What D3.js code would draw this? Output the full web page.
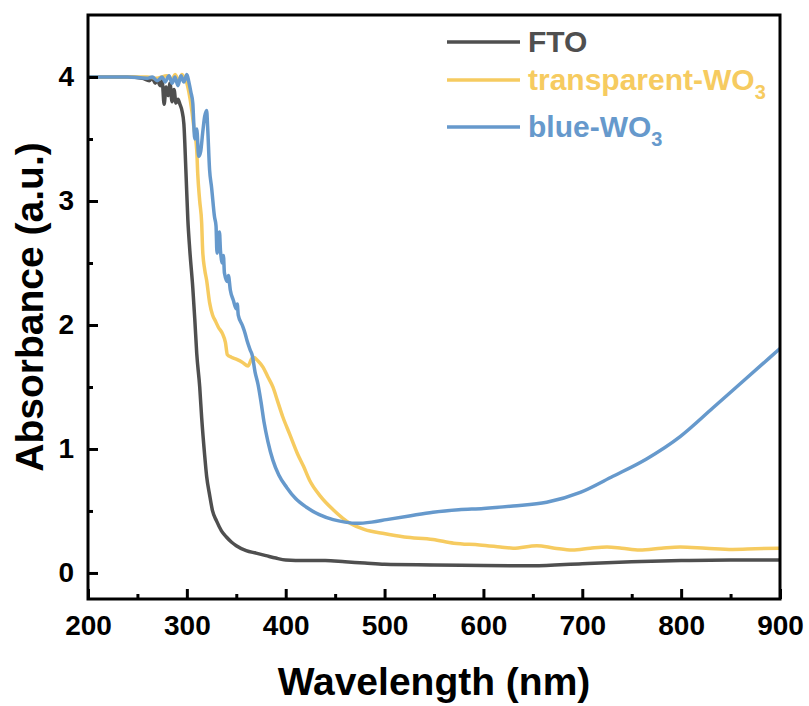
<!DOCTYPE html>
<html>
<head>
<meta charset="utf-8">
<script src="https://cdn.jsdelivr.net/npm/d3@7"></script>
<style>
  html, body { margin: 0; padding: 0; background: #fff; }
  svg text { font-family: Arial, "Liberation Sans", sans-serif; font-weight: bold; }
</style>
</head>
<body>
<svg id="chart_svg" width="809" height="706"></svg>
<script>
// wavelength (nm), absorbance (a.u.)
const ftoData = [
  [200,4.0],[220,4.0],[240,4.0],[255,3.99],[262,3.97],[265,3.99],[268,3.95],[270,3.98],
  [273,3.93],[275,3.97],[277,3.78],[279,3.92],[281,3.85],[283,3.95],[285,3.8],[287,3.9],
  [289,3.79],[291,3.82],[293,3.78],[295,3.73],[297,3.62],[299,3.25],[301,2.85],[303,2.6],
  [306,2.3],[308,2.05],[310,1.77],[313,1.5],[315,1.25],[318,0.95],[320,0.78],[323,0.63],
  [326,0.5],[330,0.42],[335,0.34],[340,0.29],[345,0.25],[350,0.22],[360,0.18],[370,0.16],
  [380,0.14],[390,0.12],[400,0.105],[420,0.10],[440,0.10],[460,0.09],[480,0.08],[500,0.07],
  [550,0.065],[600,0.06],[650,0.058],[700,0.075],[750,0.09],[800,0.10],[850,0.105],[900,0.105]
];

const transparentData = [
  [200,4.0],[240,4.0],[260,4.0],[270,3.99],[280,4.01],[285,3.98],[288,4.02],[292,3.97],
  [295,4.02],[298,3.98],[300,3.95],[302,3.88],[305,3.73],[307,3.6],[310,3.41],[311,3.22],
  [313,3.0],[315,2.82],[316,2.6],[318,2.45],[320,2.36],[323,2.18],[326,2.08],[329,2.03],
  [332,1.98],[336,1.93],[339,1.86],[341,1.76],[345,1.74],[351,1.72],[356,1.70],[362,1.67],
  [365,1.72],[367,1.74],[372,1.71],[377,1.66],[382,1.58],[387,1.5],[392,1.38],[397,1.26],
  [404,1.12],[412,0.96],[418,0.86],[424,0.75],[435,0.62],[448,0.51],[465,0.40],[480,0.35],
  [498,0.32],[520,0.29],[549,0.27],[570,0.24],[596,0.226],[617,0.21],[630,0.2],[654,0.22],
  [672,0.2],[690,0.185],[708,0.2],[725,0.21],[740,0.2],[758,0.185],[780,0.2],[799,0.21],
  [825,0.2],[852,0.19],[875,0.195],[900,0.2]
];

const blueData = [
  [200,4.0],[240,4.0],[260,3.99],[265,4.0],[270,3.97],[275,4.0],[278,3.96],[282,4.01],
  [285,3.95],[288,4.0],[291,3.93],[294,4.01],[297,3.96],[300,4.02],[302,3.96],[304,3.88],
  [306,3.79],[308,3.5],[310,3.58],[312,3.36],[314,3.4],[316,3.55],[318,3.68],[320,3.73],
  [321,3.6],[323,3.25],[325,3.11],[328,2.87],[329.5,2.8],[330.5,2.58],[331.5,2.66],[333,2.75],
  [334,2.6],[336,2.5],[337,2.56],[338,2.42],[341,2.35],[342,2.4],[344,2.28],[347,2.2],
  [350,2.13],[351,2.17],[352,2.08],[356,2.0],[359,1.93],[361,1.87],[364,1.8],[366,1.76],
  [369,1.62],[372,1.52],[375,1.38],[378,1.22],[382,1.06],[387,0.91],[393,0.79],[401,0.69],
  [410,0.6],[421,0.53],[434,0.47],[448,0.43],[460,0.41],[472,0.40],[487,0.41],[502,0.43],
  [525,0.46],[549,0.49],[575,0.51],[600,0.52],[630,0.54],[664,0.57],[698,0.65],[731,0.78],
  [765,0.92],[799,1.10],[832,1.33],[866,1.57],[900,1.81]
];

const seriesNames = ["FTO", "transparent-WO", "blue-WO"];
const seriesSubs = ["", "3", "3"];
const seriesColors = ["#4f4f4f", "#f6cb60", "#6699cc"];

const xTicks = [200, 300, 400, 500, 600, 700, 800, 900];
const xMinorTicks = [250, 350, 450, 550, 650, 750, 850];
const yTicks = [0, 1, 2, 3, 4];
const yMinorTicks = [0.5, 1.5, 2.5, 3.5];

const margin = { top: 15, left: 88, right: 29, bottom: 107 };

let svg = d3.select("#chart_svg");
let width = +svg.attr("width") - margin.left - margin.right;
let height = +svg.attr("height") - margin.top - margin.bottom;

const xScale = d3.scaleLinear().domain([200, 900]).range([0, width]);
const yScale = d3.scaleLinear().domain([-0.21, 4.5]).range([height, 0]);

let g = svg.append("g").attr("transform", "translate(" + margin.left + "," + margin.top + ")");

g.append("clipPath").attr("id", "plot_clip")
  .append("rect").attr("width", width).attr("height", height);

// curves
const line = d3.line()
  .x(d => xScale(d[0]))
  .y(d => yScale(d[1]))
  .curve(d3.curveMonotoneX);

const allSeries = [ftoData, transparentData, blueData];
g.append("g").attr("clip-path", "url(#plot_clip)")
  .selectAll("path")
  .data(allSeries)
  .enter()
  .append("path")
  .attr("d", d => line(d))
  .attr("fill", "none")
  .attr("stroke", (d, i) => seriesColors[i])
  .attr("stroke-width", 3.5)
  .attr("stroke-linejoin", "round");

// axes, ticks point inward
let x_axis = d3.axisBottom(xScale).tickValues(xTicks).tickSize(-10).tickPadding(16).tickFormat(d3.format("d"));
let x_minor = d3.axisBottom(xScale).tickValues(xMinorTicks).tickSize(-5).tickFormat("");
let y_axis = d3.axisLeft(yScale).tickValues(yTicks).tickSize(-10).tickPadding(14).tickFormat(d3.format("d"));
let y_minor = d3.axisLeft(yScale).tickValues(yMinorTicks).tickSize(-5).tickFormat("");

function styleAxis(sel) {
  sel.select(".domain").remove();
  sel.selectAll("line").attr("stroke", "#000").attr("stroke-width", 3);
  sel.selectAll("text").attr("fill", "#000").style("font-size", "28px");
}

g.append("g").attr("transform", "translate(0," + height + ")").call(x_axis).call(styleAxis);
g.append("g").attr("transform", "translate(0," + height + ")").call(x_minor).call(styleAxis);
g.append("g").call(y_axis).call(styleAxis);
g.append("g").call(y_minor).call(styleAxis);

// frame
g.append("rect")
  .attr("width", width)
  .attr("height", height)
  .attr("fill", "none")
  .attr("stroke", "#000")
  .attr("stroke-width", 3);

// axis titles
g.append("text")
  .attr("x", width / 2)
  .attr("y", height + 96)
  .attr("text-anchor", "middle")
  .style("font-size", "39px")
  .text("Wavelength (nm)");

g.append("text")
  .attr("transform", "rotate(-90)")
  .attr("x", -height / 2)
  .attr("y", -45)
  .attr("text-anchor", "middle")
  .style("font-size", "39px")
  .text("Absorbance (a.u.)");

// legend
const legendY = [42, 80, 127];
let legend = svg.append("g");
let rows = legend.selectAll(".legend_row")
  .data(seriesNames)
  .enter()
  .append("g")
  .attr("class", "legend_row")
  .attr("transform", (d, i) => "translate(447," + legendY[i] + ")");

rows.append("line")
  .attr("x1", 0).attr("x2", 73)
  .attr("y1", 0).attr("y2", 0)
  .attr("stroke", (d, i) => seriesColors[i])
  .attr("stroke-width", 3.5);

let labels = rows.append("text")
  .attr("x", 81)
  .attr("y", 10)
  .attr("fill", (d, i) => seriesColors[i])
  .style("font-size", "30px");

labels.append("tspan").text(d => d);
labels.append("tspan")
  .attr("dy", 9)
  .style("font-size", "20px")
  .text((d, i) => seriesSubs[i]);
</script>
</body>
</html>
